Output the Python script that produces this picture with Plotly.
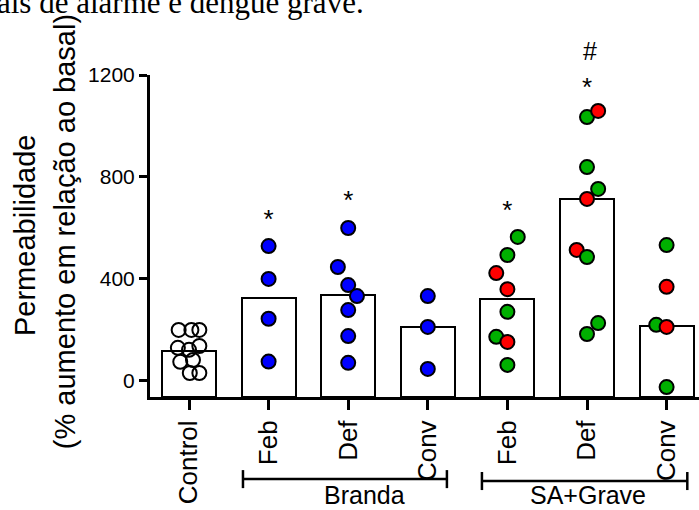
import plotly.graph_objects as go

# ---------------- data ----------------
categories = ["Control", "Feb", "Def", "Conv", "Feb", "Def", "Conv"]
bar_means = [118, 325, 337, 213, 323, 712, 217]

control_vals = [200, 200, 200, 130, 122, 137, 75, 82, 31, 31]
control_jit = [-0.13, 0.03, 0.13, -0.14, 0.0, 0.13, -0.11, 0.05, 0.01, 0.13]

branda_feb_vals = [529, 400, 244, 76]
branda_feb_jit = [0, 0, 0, 0]
branda_def_vals = [600, 447, 376, 333, 278, 176, 71]
branda_def_jit = [0, -0.13, 0, 0.11, 0, 0, 0]
branda_conv_vals = [333, 212, 47]
branda_conv_jit = [0, 0, 0]

sa_feb_vals = [565, 494, 423, 360, 271, 173, 153, 63]
sa_feb_jit = [0.13, 0, -0.14, 0, 0, -0.14, 0, 0]
sa_feb_class = ["G", "G", "R", "R", "G", "G", "R", "G"]
sa_def_vals = [1035, 1059, 839, 753, 714, 514, 486, 227, 184]
sa_def_jit = [0, 0.14, 0, 0.14, 0, -0.13, 0, 0.14, 0]
sa_def_class = ["G", "R", "G", "G", "R", "R", "G", "G", "G"]
sa_conv_vals = [533, 369, 220, 212, -24]
sa_conv_jit = [0, 0, -0.13, 0, 0]
sa_conv_class = ["G", "R", "G", "R", "G"]

star_pos = [1, 2, 4, 5]
star_vals = [625, 700, 660, 1143]
hash_pos = [5.04]
hash_vals = [1295]

y_ticks = [0, 400, 800, 1200]
groups = ["Branda", "SA+Grave"]

# ---------------- style ----------------
YMIN, YMAX = -63, 1200
FONT = "Liberation Sans, Arial, sans-serif"
BLUE = "#0000ff"
CLASS_COLORS = {"G": "#00b000", "R": "#ff0000"}
MS = 14

fig = go.Figure()

fig.add_trace(go.Bar(
    x=list(range(len(categories))),
    y=[m - YMIN for m in bar_means],
    base=[YMIN] * len(categories),
    width=0.68,
    marker=dict(color="white", line=dict(color="black", width=2)),
    showlegend=False, hoverinfo="skip",
))


def add_points(idx, vals, jit, colors):
    fig.add_trace(go.Scatter(
        x=[idx + j for j in jit], y=vals, mode="markers",
        marker=dict(size=MS, color=colors,
                    line=dict(color="black", width=2), opacity=1),
        showlegend=False, cliponaxis=False,
    ))


add_points(0, control_vals, control_jit, ["rgba(255,255,255,0)"] * len(control_vals))
add_points(1, branda_feb_vals, branda_feb_jit, [BLUE] * len(branda_feb_vals))
add_points(2, branda_def_vals, branda_def_jit, [BLUE] * len(branda_def_vals))
add_points(3, branda_conv_vals, branda_conv_jit, [BLUE] * len(branda_conv_vals))
add_points(4, sa_feb_vals, sa_feb_jit, [CLASS_COLORS[c] for c in sa_feb_class])
add_points(5, sa_def_vals, sa_def_jit, [CLASS_COLORS[c] for c in sa_def_class])
add_points(6, sa_conv_vals, sa_conv_jit, [CLASS_COLORS[c] for c in sa_conv_class])

# significance marks (asterisks within the axis range)
fig.add_trace(go.Scatter(
    x=star_pos, y=star_vals, mode="text", text=["*"] * len(star_pos),
    textposition="middle center", textfont=dict(size=26, family=FONT, color="black"),
    showlegend=False, cliponaxis=False, hoverinfo="skip",
))

annotations = []
# '#' lies above the axis range, so place it in paper units derived from its value
for xp, yv in zip(hash_pos, hash_vals):
    annotations.append(dict(x=xp, y=(yv - YMIN) / (YMAX - YMIN), xref="x", yref="paper",
                            text="#", showarrow=False,
                            font=dict(size=25, family=FONT, color="black"),
                            xanchor="center", yanchor="middle"))

# y-axis title (two lines)
annotations.append(dict(x=-0.2277, y=0.503, xref="paper", yref="paper",
                        text="Permeabilidade", textangle=-90, showarrow=False,
                        font=dict(size=29, family=FONT, color="black"),
                        xanchor="center", yanchor="middle"))
annotations.append(dict(x=-0.1548, y=0.512, xref="paper", yref="paper",
                        text="(% aumento em relação ao basal)", textangle=-90, showarrow=False,
                        font=dict(size=29, family=FONT, color="black"),
                        xanchor="center", yanchor="middle"))

# group labels
group_centers = [2.2, 5.01]
for g, cx in zip(groups, group_centers):
    annotations.append(dict(x=cx, y=-0.305, xref="x", yref="paper", text=g,
                            showarrow=False, font=dict(size=25, family=FONT, color="black"),
                            xanchor="center", yanchor="middle"))

# cut-off caption text from the source document
annotations.append(dict(x=-0.2823, y=1.1646, xref="paper", yref="paper",
                        text="ais de alarme e dengue grave.", showarrow=False,
                        font=dict(size=31, family="Liberation Serif, Times New Roman, serif",
                                  color="black"),
                        xanchor="left", yanchor="bottom"))

shapes = []
brackets = [(0.678, 3.24, -0.255), (3.68, 6.26, -0.261)]
for x0, x1, yb in brackets:
    shapes.append(dict(type="line", xref="x", yref="paper", x0=x0, x1=x1, y0=yb, y1=yb,
                       line=dict(color="black", width=2.5)))
    for xe in (x0, x1):
        shapes.append(dict(type="line", xref="x", yref="paper", x0=xe, x1=xe,
                           y0=yb + 0.028, y1=yb - 0.028, line=dict(color="black", width=2.5)))

fig.update_layout(
    width=699, height=510,
    margin=dict(l=150, r=0, t=75, b=113, autoexpand=False),
    plot_bgcolor="white", paper_bgcolor="white",
    font=dict(family=FONT, color="black"),
    annotations=annotations, shapes=shapes,
    bargap=0,
)
fig.update_xaxes(
    range=[-0.49, 6.407], tickmode="array",
    tickvals=list(range(len(categories))), ticktext=categories,
    tickangle=-90, ticks="outside", ticklen=10, tickwidth=2.5, tickcolor="black",
    tickfont=dict(size=26, family=FONT, color="black"),
    showline=True, linecolor="black", linewidth=3,
    showgrid=False, zeroline=False, automargin=False,
)
fig.update_yaxes(
    range=[YMIN, YMAX], tickmode="array", tickvals=y_ticks,
    ticks="outside", ticklen=8, tickwidth=2.5, tickcolor="black",
    tickfont=dict(size=21, family=FONT, color="black"),
    showline=True, linecolor="black", linewidth=3,
    showgrid=False, zeroline=False, automargin=False,
)

fig.write_html("out.html")
